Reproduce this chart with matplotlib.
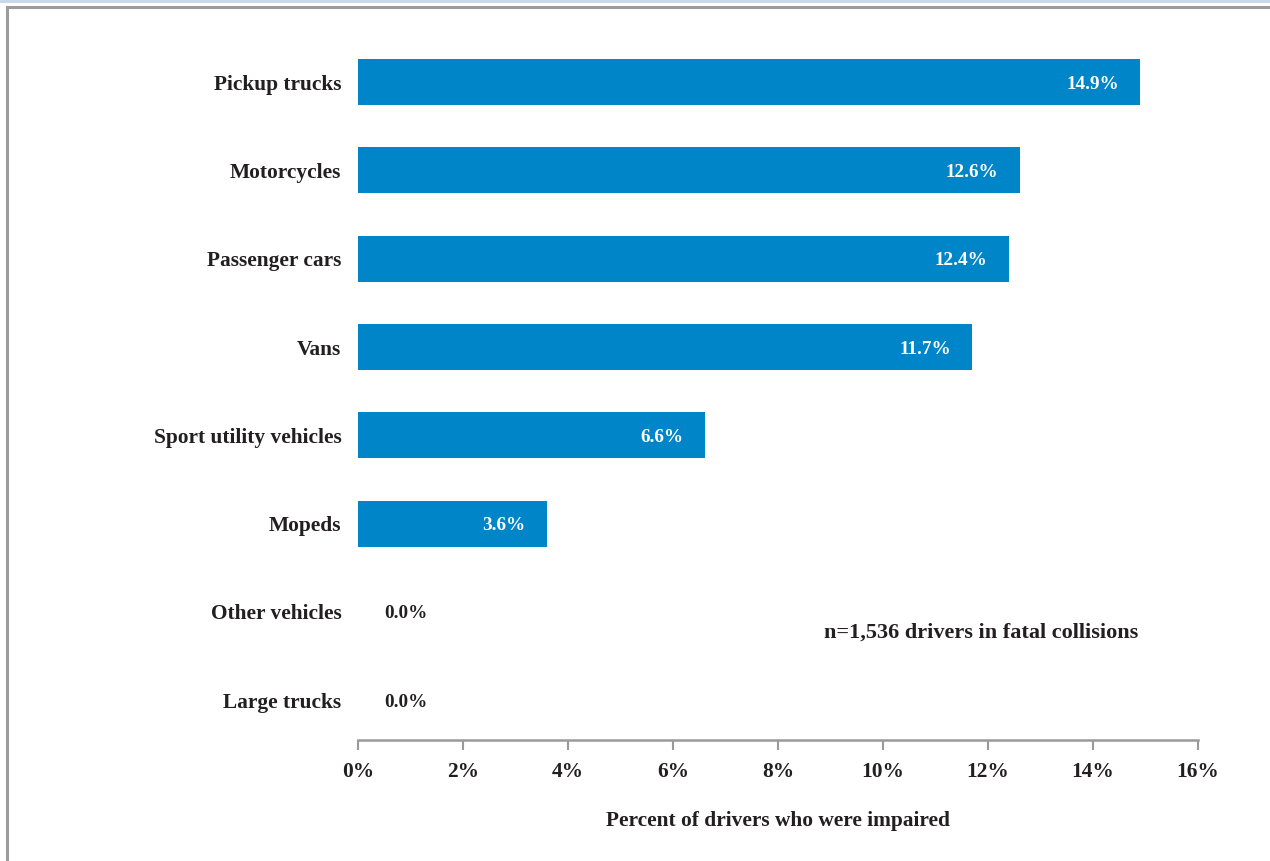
import matplotlib.pyplot as plt
from matplotlib.lines import Line2D
from matplotlib.patches import Rectangle

# impaired-driver share by vehicle type (top to bottom)
categories = ["Pickup trucks", "Motorcycles", "Passenger cars", "Vans",
              "Sport utility vehicles", "Mopeds", "Other vehicles", "Large trucks"]
values = [14.9, 12.6, 12.4, 11.7, 6.6, 3.6, 0.0, 0.0]
xticks = [0, 2, 4, 6, 8, 10, 12, 14, 16]
note = "n=1,536 drivers in fatal collisions"
xlabel = "Percent of drivers who were impaired"

BLUE = "#0085c8"
INK = "#231f20"
GREY = "#9a9a9a"
FONT = ["Liberation Serif", "DejaVu Serif"]

plt.rcParams["font.family"] = FONT
plt.rcParams["font.weight"] = "bold"

W, H = 1270, 861
fig = plt.figure(figsize=(W / 100, H / 100), dpi=100)

# page frame: light strip at the very top, grey rule along top and left
fig.add_artist(Rectangle((0, 1 - 2.5 / H), 1, 2.5 / H, transform=fig.transFigure,
                         color="#c9d9ea", lw=0))
fig.add_artist(Line2D([7 / W, 1], [1 - 7 / H, 1 - 7 / H], transform=fig.transFigure,
                      color="#9c9c9c", lw=2.2))
fig.add_artist(Line2D([7 / W, 7 / W], [0, 1 - 7 / H], transform=fig.transFigure,
                      color="#9c9c9c", lw=2.2))

left, right, top, bottom = 358, 1198, 38, 740
ax = fig.add_axes([left / W, 1 - bottom / H, (right - left) / W, (bottom - top) / H])

ypos = list(range(len(categories)))
ax.barh(ypos, values, height=0.52, color=BLUE, edgecolor="none")

for y, v in zip(ypos, values):
    if v > 0:
        ax.text(v - 0.41, y, f"{v:.1f}%", ha="right", va="center_baseline",
                color="white", fontsize=13.8, fontweight="bold")
    else:
        ax.text(0.5, y, f"{v:.1f}%", ha="left", va="center_baseline",
                color=INK, fontsize=13.8, fontweight="bold")

ax.set_xlim(0, 16)
ax.set_ylim(7.45, -0.5)
ax.set_yticks(ypos)
ax.set_yticklabels(categories, fontsize=15.4, fontweight="bold", color=INK,
                   va="center_baseline")
ax.set_xticks(xticks)
ax.set_xticklabels([f"{t}%" for t in xticks], fontsize=15.4, fontweight="bold", color=INK)
ax.tick_params(axis="y", length=0, pad=12)
ax.tick_params(axis="x", length=7, width=1.5, color=GREY, pad=9, direction="out")

for side in ["top", "right", "left"]:
    ax.spines[side].set_visible(False)
ax.spines["bottom"].set_color(GREY)
ax.spines["bottom"].set_linewidth(1.8)

ax.set_xlabel(xlabel, fontsize=15.4, fontweight="bold", color=INK, labelpad=21)
ax.text(14.86, 6.2, note, ha="right", va="center_baseline", fontsize=16,
        fontweight="bold", color=INK)

fig.savefig("out.png", dpi=100, facecolor="white")
